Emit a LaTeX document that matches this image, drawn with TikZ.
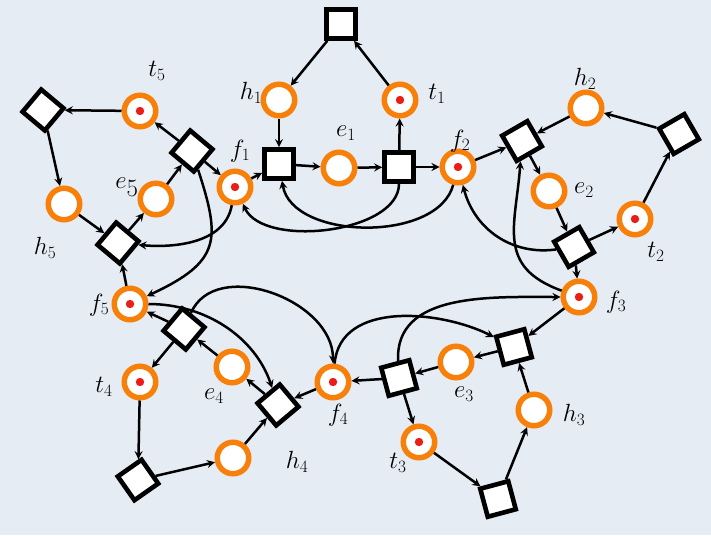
\documentclass[tikz,border=0pt]{standalone}
\usetikzlibrary{arrows}
\definecolor{bgblue}{RGB}{229,236,244}
\definecolor{netorange}{RGB}{247,128,10}
\definecolor{tokred}{RGB}{234,30,22}
\begin{document}
\begin{tikzpicture}[x=1pt,y=-1pt,
  place/.style={circle,draw=netorange,line width=5.5pt,fill=white,minimum size=31.5pt,inner sep=0pt},
  marked/.style={place,path picture={\fill[tokred] (path picture bounding box.center) circle (4.2pt);}},
  trans/.style={rectangle,draw=black,line width=4.6pt,fill=white,minimum size=29pt,inner sep=0pt},
  lbl/.style={font=\fontsize{27}{31}\selectfont,inner sep=0pt},
  link/.style={-stealth,line width=2.5pt}]
\fill[bgblue] (0,0) rectangle (711,535);

\node[trans] (a1) at (341,24) {};
\node[place] (h1) at (279,100) {};
\node[marked] (t1) at (400,100) {};
\node[trans] (b1) at (279,164) {};
\node[place] (e1) at (339,168) {};
\node[trans] (c1) at (399,167) {};
\node[marked] (f1) at (235,187) {};
\node[marked] (f2) at (458,167) {};

\node[place] (h2) at (586,108) {};
\node[trans,rotate=30] (b2) at (522,141) {};
\node[place] (e2) at (549,191) {};
\node[trans,rotate=30] (c2) at (574,247) {};
\node[marked] (t2) at (635,219) {};
\node[trans,rotate=30] (a2) at (679,134) {};
\node[marked] (f3) at (579,297) {};

\node[trans,rotate=15] (b3) at (514,347) {};
\node[place] (e3) at (456,362) {};
\node[trans,rotate=15] (c3) at (399,378) {};
\node[place] (h3) at (534,410) {};
\node[marked] (t3) at (419,442) {};
\node[trans,rotate=15] (a3) at (498,499) {};
\node[marked] (f4) at (333,382) {};

\node[trans,rotate=50] (c4) at (184,329) {};
\node[place] (e4) at (232,367) {};
\node[trans,rotate=40] (b4) at (278,405) {};
\node[marked] (t4) at (140,382) {};
\node[place] (h4) at (233,458) {};
\node[trans,rotate=35] (a4) at (138,480) {};
\node[marked] (f5) at (130,304) {};

\node[trans,rotate=50] (a5) at (43,110) {};
\node[marked] (t5) at (140,111) {};
\node[trans,rotate=50] (c5) at (192,151) {};
\node[place] (e5) at (156,199) {};
\node[place] (h5) at (64,204) {};
\node[trans,rotate=50] (b5) at (118,243) {};

\node[lbl] (lh1) at (251,93) {$h_1$};
\node[lbl] (lt1) at (437,94) {$t_1$};
\node[lbl] (le1) at (346,133) {$e_1$};
\node[lbl] (lf1) at (240,151) {$f_1$};
\node[lbl] (lf2) at (460,141) {$f_2$};
\node[lbl] (lh2) at (585,79) {$h_2$};
\node[lbl] (le2) at (584,190) {$e_2$};
\node[lbl] (lt2) at (656,252) {$t_2$};
\node[lbl] (lf3) at (616,302) {$f_3$};
\node[lbl] (lh3) at (574,415) {$h_3$};
\node[lbl] (le3) at (464,394) {$e_3$};
\node[lbl] (lt3) at (398,463) {$t_3$};
\node[lbl] (lf4) at (338,415) {$f_4$};
\node[lbl] (lh4) at (297,462) {$h_4$};
\node[lbl] (le4) at (214,396) {$e_4$};
\node[lbl] (lt4) at (104,387) {$t_4$};
\node[lbl] (lf5) at (99,305) {$f_5$};
\node[lbl] (lh5) at (45,248) {$h_5$};
\node[lbl,font=\fontsize{34}{38}\selectfont] (le5) at (127,187) {$e_5$};
\node[lbl] (lt5) at (157,71) {$t_5$};

\draw[link] (t1) -- (a1);
\draw[link] (a1) -- (h1);
\draw[link] (h1) -- (b1);
\draw[link] (b1) -- (e1);
\draw[link] (e1) -- (c1);
\draw[link] (c1) -- (t1);
\draw[link] (c1) -- (f2);
\draw[link] (f1) -- (b1);

\draw[link] (t2) -- (a2);
\draw[link] (a2) -- (h2);
\draw[link] (h2) -- (b2);
\draw[link] (b2) -- (e2);
\draw[link] (e2) -- (c2);
\draw[link] (c2) -- (t2);
\draw[link] (c2) -- (f3);
\draw[link] (f2) -- (b2);

\draw[link] (t3) -- (a3);
\draw[link] (a3) -- (h3);
\draw[link] (h3) -- (b3);
\draw[link] (b3) -- (e3);
\draw[link] (e3) -- (c3);
\draw[link] (c3) -- (t3);
\draw[link] (c3) -- (f4);
\draw[link] (f3) -- (b3);

\draw[link] (t4) -- (a4);
\draw[link] (a4) -- (h4);
\draw[link] (h4) -- (b4);
\draw[link] (b4) -- (e4);
\draw[link] (e4) -- (c4);
\draw[link] (c4) -- (t4);
\draw[link] (c4) -- (f5);
\draw[link] (f4) -- (b4);

\draw[link] (t5) -- (a5);
\draw[link] (a5) -- (h5);
\draw[link] (h5) -- (b5);
\draw[link] (b5) -- (e5);
\draw[link] (e5) -- (c5);
\draw[link] (c5) -- (t5);
\draw[link] (c5) -- (f1);
\draw[link] (f5) -- (b5);

\draw[link] (f2) to[out=-105,in=-80,looseness=0.9] (b1);
\draw[link] (c1) to[out=-90,in=-65,looseness=0.8] (f1);
\draw[link] (f3) to[out=160,in=-100,looseness=1.3] (b2);
\draw[link] (c2) to[out=180,in=-75] (f2);
\draw[link] (f4) to[out=85,in=150] (b3);
\draw[link] (c3) to[out=90,in=180] (f3);
\draw[link] (f5) to[out=0,in=100] (b4);
\draw[link] (c4) to[out=55,in=90] (f4);
\draw[link] (f1) to[out=-100,in=-20] (b5);
\draw[link] (c5) to[out=-80,in=25,looseness=1.4] (f5);
\end{tikzpicture}
\end{document}
